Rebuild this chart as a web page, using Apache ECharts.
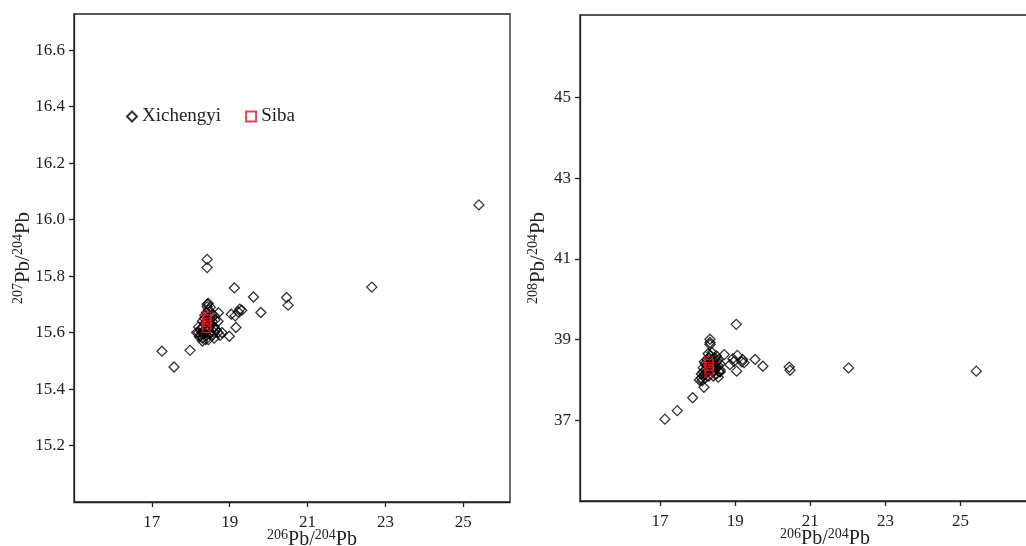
<!DOCTYPE html>
<html>
<head>
<meta charset="utf-8">
<script src="https://cdn.jsdelivr.net/npm/echarts@6/dist/echarts.min.js"></script>
<style>
  html, body { margin: 0; padding: 0; background: #fff; }
  #main { width: 1026px; height: 546px; }
</style>
</head>
<body>
<div id="main"></div>
<script>
// 206Pb/204Pb vs 207Pb/204Pb (left panel)
var xichengyi207 = [
  [18.42,15.859],[18.42,15.830],[19.12,15.758],[19.61,15.726],[20.46,15.724],[20.50,15.697],
  [19.80,15.671],[19.26,15.683],[19.31,15.679],[19.22,15.673],[19.04,15.665],[19.14,15.659],
  [19.16,15.618],[18.99,15.587],[18.71,15.670],[18.45,15.703],[18.42,15.691],[17.26,15.534],
  [17.98,15.537],[17.57,15.478],[22.65,15.761],[25.40,16.052],
  [18.20,15.600],[18.25,15.590],[18.30,15.580],[18.35,15.600],[18.40,15.590],[18.45,15.610],
  [18.50,15.600],[18.55,15.590],[18.60,15.600],[18.65,15.610],[18.70,15.600],[18.75,15.590],
  [18.30,15.620],[18.35,15.630],[18.40,15.640],[18.45,15.620],[18.50,15.630],[18.55,15.640],
  [18.60,15.620],[18.25,15.610],[18.20,15.620],[18.15,15.600],[18.30,15.570],[18.45,15.575],
  [18.60,15.580],[18.50,15.655],[18.55,15.665],[18.60,15.660],[18.40,15.670],[18.45,15.680],
  [18.35,15.650],[18.50,15.690],[18.42,15.700],[18.62,15.645],[18.70,15.640],[18.30,15.640],
  [18.36,15.660],[18.28,15.600],[18.48,15.595],[18.58,15.615],[18.80,15.600],[18.22,15.585],
  [18.38,15.575]
];
var siba207 = [[18.40,15.615],[18.42,15.626],[18.40,15.637],[18.43,15.648],[18.41,15.658]];

// 206Pb/204Pb vs 208Pb/204Pb (right panel)
var xichengyi208 = [
  [19.03,39.38],[18.33,39.01],[18.33,38.93],[18.33,38.88],[18.71,38.63],[19.06,38.61],
  [18.94,38.53],[18.97,38.46],[18.86,38.38],[19.20,38.51],[19.24,38.43],[19.18,38.45],
  [19.53,38.51],[19.74,38.34],[19.04,38.22],[20.44,38.32],[20.46,38.24],[18.60,38.20],
  [18.55,38.07],[18.17,37.82],[17.87,37.56],[17.46,37.24],[17.13,37.03],[22.02,38.30],
  [25.42,38.22],
  [18.05,38.00],[18.10,38.05],[18.15,38.10],[18.20,38.15],[18.25,38.20],[18.30,38.25],
  [18.35,38.30],[18.40,38.35],[18.45,38.40],[18.50,38.45],[18.10,38.15],[18.15,38.20],
  [18.20,38.25],[18.25,38.35],[18.30,38.40],[18.35,38.45],[18.40,38.50],[18.20,38.05],
  [18.30,38.10],[18.40,38.20],[18.50,38.30],[18.55,38.35],[18.60,38.40],[18.25,38.50],
  [18.30,38.55],[18.35,38.60],[18.45,38.55],[18.50,38.60],[18.55,38.50],[18.20,38.40],
  [18.15,38.30],[18.60,38.25],[18.45,38.25],[18.12,37.98],[18.28,38.65],[18.38,38.68],
  [18.18,38.45],[18.42,38.10],[18.50,38.15],[18.58,38.20]
];
var siba208 = [[18.30,38.17],[18.32,38.25],[18.30,38.33],[18.31,38.41],[18.29,38.48]];

var xTicks = [17, 19, 21, 23, 25];
var y207Ticks = [15.2, 15.4, 15.6, 15.8, 16.0, 16.2, 16.4, 16.6];
var y208Ticks = [37, 39, 41, 43, 45];

var font = '"Liberation Serif", "DejaVu Serif", serif';
var ink = '#222';

function nameRich(big, small) {
  return {
    fontFamily: font, color: ink, fontSize: big,
    rich: {
      s: { fontFamily: font, fontSize: small, color: ink, verticalAlign: 'top', lineHeight: small + 2, padding: [0, 0, 7, 0] },
      b: { fontFamily: font, fontSize: big, color: ink, verticalAlign: 'bottom', lineHeight: big + 2 }
    }
  };
}

function xAxisOf(idx, min, max) {
  return {
    gridIndex: idx, type: 'value', min: min, max: max,
    name: '{s|206}{b|Pb/}{s|204}{b|Pb}', nameLocation: 'middle', nameGap: 26, nameMoveOverlap: false,
    nameTextStyle: Object.assign(nameRich(20, 14), { padding: [0, 0, 0, 40] }),
    splitLine: { show: false },
    axisLine: { lineStyle: { color: ink, width: 1.3 } },
    axisTick: { show: true, length: 5, inside: false, customValues: xTicks, lineStyle: { color: ink, width: 1.3 } },
    axisLabel: { customValues: xTicks, margin: 12, fontFamily: font, fontSize: 17, color: ink }
  };
}

function yAxisOf(idx, min, max, ticks, label, gap, digits) {
  return {
    gridIndex: idx, type: 'value', min: min, max: max,
    name: label, nameLocation: 'middle', nameGap: gap, nameRotate: 90, nameMoveOverlap: false,
    nameTextStyle: nameRich(21, 14),
    splitLine: { show: false },
    axisLine: { lineStyle: { color: ink, width: 1.3 } },
    axisTick: { show: true, length: 5, customValues: ticks, lineStyle: { color: ink, width: 1.3 } },
    axisLabel: {
      customValues: ticks, margin: 9, fontFamily: font, fontSize: 17, color: ink,
      formatter: function (v) { return v.toFixed(digits); }
    }
  };
}

var diamondStyle = { color: 'rgba(0,0,0,0)', borderColor: '#000', borderWidth: 1.3 };
var squareStyle = { color: 'rgba(0,0,0,0)', borderColor: '#e8141b', borderWidth: 1.3 };

var myChart = echarts.init(document.getElementById('main'));
var option = {
  backgroundColor: '#fff',
  animation: false,
  legend: {
    left: 121, top: 102, itemWidth: 10, itemHeight: 10, itemGap: 24,
    textStyle: { fontFamily: font, fontSize: 19, color: ink },
    data: ['Xichengyi', 'Siba']
  },
  grid: [
    { left: 74, top: 14, width: 436, height: 488, show: true, borderColor: ink, borderWidth: 1.3, outerBoundsMode: 'none', containLabel: false },
    { left: 580, top: 15, width: 450, height: 486, show: true, borderColor: ink, borderWidth: 1.3, outerBoundsMode: 'none', containLabel: false }
  ],
  xAxis: [xAxisOf(0, 15, 26.2), xAxisOf(1, 14.87, 26.85)],
  yAxis: [
    yAxisOf(0, 15.0, 16.728, y207Ticks, '{s|207}{b|Pb/}{s|204}{b|Pb}', 40, 1),
    yAxisOf(1, 35, 47.05, y208Ticks, '{s|208}{b|Pb/}{s|204}{b|Pb}', 31, 0)
  ],
  series: [
    { name: 'Xichengyi', type: 'scatter', xAxisIndex: 0, yAxisIndex: 0, symbol: 'diamond', symbolSize: 10, itemStyle: diamondStyle, data: xichengyi207 },
    { name: 'Siba', type: 'scatter', xAxisIndex: 0, yAxisIndex: 0, symbol: 'rect', symbolSize: 8, itemStyle: squareStyle, data: siba207, z: 3 },
    { name: 'Xichengyi', type: 'scatter', xAxisIndex: 1, yAxisIndex: 1, symbol: 'diamond', symbolSize: 10, itemStyle: diamondStyle, data: xichengyi208 },
    { name: 'Siba', type: 'scatter', xAxisIndex: 1, yAxisIndex: 1, symbol: 'rect', symbolSize: 8, itemStyle: squareStyle, data: siba208, z: 3 }
  ]
};
myChart.setOption(option);
</script>
</body>
</html>
